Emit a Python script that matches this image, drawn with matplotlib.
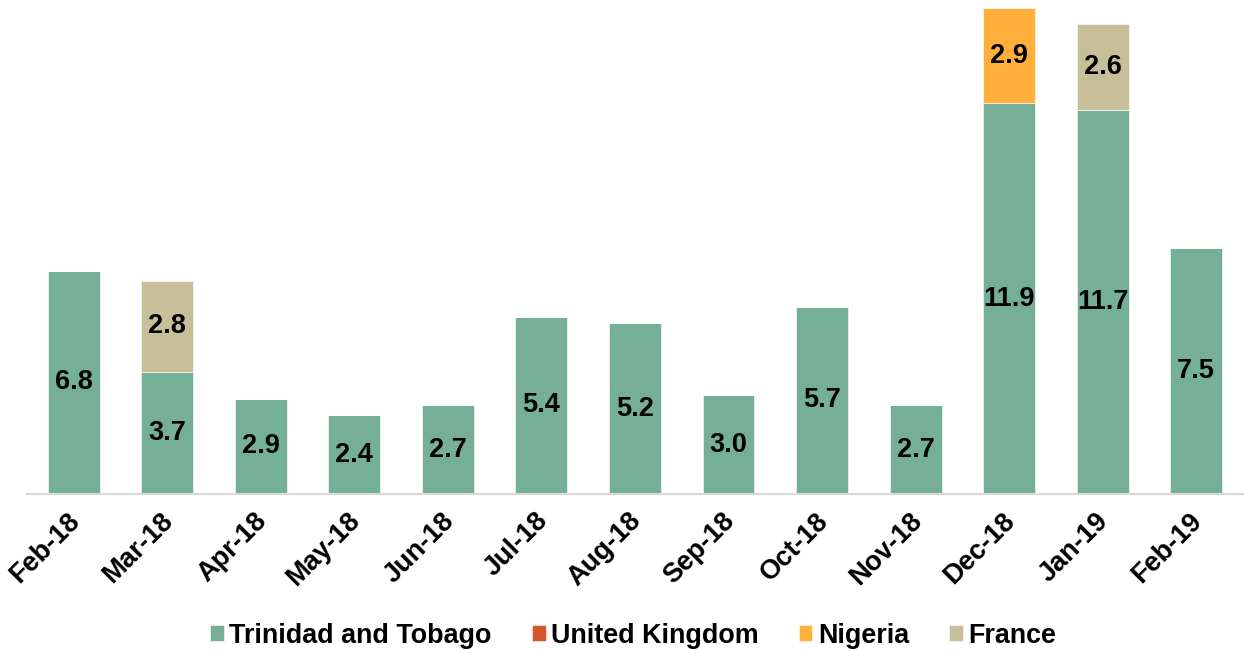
import matplotlib.pyplot as plt
import matplotlib.transforms as mtransforms
import numpy as np

plt.rcParams['font.family'] = ['Liberation Sans', 'DejaVu Sans']
plt.rcParams['font.weight'] = 'bold'

months = ['Feb-18', 'Mar-18', 'Apr-18', 'May-18', 'Jun-18', 'Jul-18', 'Aug-18',
          'Sep-18', 'Oct-18', 'Nov-18', 'Dec-18', 'Jan-19', 'Feb-19']
trinidad = [6.8, 3.7, 2.9, 2.4, 2.7, 5.4, 5.2, 3.0, 5.7, 2.7, 11.9, 11.7, 7.5]
uk = [0, 0, 0, 0, 0, 0, 0, 0, 0, 0, 0, 0, 0]
nigeria = [0, 0, 0, 0, 0, 0, 0, 0, 0, 0, 2.9, 0, 0]
france = [0, 2.8, 0, 0, 0, 0, 0, 0, 0, 0, 0, 2.6, 0]

series = [('Trinidad and Tobago', trinidad, '#75AF98'),
          ('United Kingdom', uk, '#D4572C'),
          ('Nigeria', nigeria, '#FFAF3A'),
          ('France', france, '#C6BF9A')]

fig = plt.figure(figsize=(12.49, 6.5), dpi=100)
ax = fig.add_axes([0.0216, 0.24, 0.9736, 0.76])

x = np.arange(len(months))
bottom = np.zeros(len(months))
for name, vals, col in series:
    vals = np.array(vals, dtype=float)
    ax.bar(x, vals, 0.555, bottom=bottom, color=col, label=name,
           edgecolor='white', linewidth=0.4)
    for xi, v, b in zip(x, vals, bottom):
        if v > 0:
            ax.text(xi, b + v / 2, f'{v:.1f}', ha='center', va='center',
                    fontsize=19.5, fontweight='bold', color='black')
    bottom += vals

ax.set_xlim(-0.5, len(months) - 0.5)
ax.set_ylim(0, 15.04)
ax.set_yticks([])
for s in ['top', 'right', 'left']:
    ax.spines[s].set_visible(False)
ax.spines['bottom'].set_color('#D9D9D9')
ax.spines['bottom'].set_linewidth(1.5)

ax.set_xticks(x)
ax.set_xticklabels(months, rotation=45, ha='right', rotation_mode='anchor',
                   fontsize=19.5, fontweight='bold')
ax.tick_params(axis='x', length=0, pad=10)
shift = mtransforms.ScaledTranslation(-0.07, 0, fig.dpi_scale_trans)
for lbl in ax.get_xticklabels():
    lbl.set_transform(lbl.get_transform() + shift)

fig.legend(loc='center', bbox_to_anchor=(0.507, 0.022), ncol=4, frameon=False,
           prop={'size': 19.4, 'weight': 'bold'}, handlelength=0.5,
           handleheight=0.5, handletextpad=0.2, columnspacing=1.5)

fig.savefig('out.png', dpi=100)
